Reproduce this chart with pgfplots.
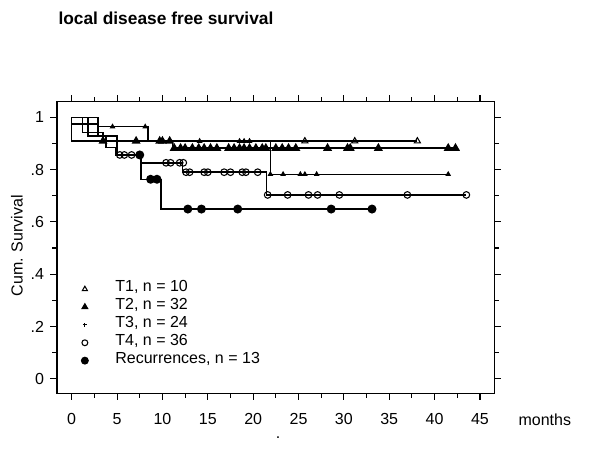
\documentclass[border=0pt]{standalone}
\usepackage{fontspec}
\setmainfont{Liberation Sans}
\usepackage{pgfplots}
\pgfplotsset{compat=1.18}
\begin{document}
\fontsize{12}{14}\selectfont
\begin{tikzpicture}
\useasboundingbox (0,0) rectangle (450pt,338.25pt);
\begin{axis}[
  at={(42.75pt,43.275pt)}, anchor=south west,
  scale only axis, width=327.98pt, height=218.7pt,
  xmin=-1.62, xmax=46.58, ymin=-0.0559, ymax=1.0597,
  axis line style={line width=0.9pt},
  xtick={0,5,...,45}, minor x tick num=1,
  ytick={0,0.2,0.4,0.6,0.8,1}, yticklabels={0,.2,.4,.6,.8,1}, minor y tick num=1,
  tick align=outside, major tick length=5pt, minor tick length=3.5pt,
  tick style={line width=0.8pt, black},
  /pgf/number format/assume math mode=true,
  tick label style={font=\fontsize{12}{14}\selectfont},
  xticklabel style={anchor=base, inner sep=0pt, yshift=-18.6pt},
  yticklabel style={anchor=east, inner sep=0pt, xshift=-4.5pt},
  legend style={draw=none, fill=none, at={(axis description cs:0,0)}, anchor=south west,
    xshift=15.3pt, yshift=15.6pt, font=\fontsize{12}{14}\selectfont,
    row sep=0pt, /tikz/column sep=20.5pt,
    nodes={inner sep=0pt, text height=8.8pt, text depth=4.6pt}},
  legend cell align=left,
  every axis plot/.append style={black, line width=1.1pt},
]
% step lines
\addplot[const plot, forget plot] coordinates {(0,1)(0,0.909)(38.1,0.909)};
\addplot[const plot, forget plot] coordinates {(0,1)(1.17,0.941)(3.45,0.909)(11.1,0.882)(42.3,0.882)};
\addplot[const plot, forget plot] coordinates {(0,1)(2.9,0.964)(8.4,0.909)(21.9,0.782)(41.5,0.782)};
\addplot[const plot, forget plot] coordinates {(0,1)(0,0.974)(1.8,0.928)(5.0,0.856)(7.65,0.826)(12.2,0.79)(21.5,0.703)(43.5,0.703)};
\addplot[const plot, forget plot] coordinates {(0,1)(1.8,0.974)(2.9,0.93)(3.8,0.885)(4.9,0.856)(7.65,0.763)(9.85,0.649)(33.1,0.649)};
% censor marks
% T1
\addplot[only marks, mark=triangle, mark size=2.6pt, mark options={fill=white, line width=0.8pt}, forget plot] coordinates {(25.7,0.909)(31.2,0.909)(38.1,0.909)};
% T2
\addplot[only marks, mark=triangle*, mark size=2.8pt, forget plot] coordinates {
(3.45,0.909)(7.1,0.909)(9.7,0.909)(10.0,0.909)(10.8,0.909)
(11.3,0.882)(12.0,0.882)(12.5,0.882)(13.3,0.882)(14.0,0.882)(14.6,0.882)(15.3,0.882)(16.0,0.882)
(17.3,0.882)(17.9,0.882)(18.5,0.882)(19.0,0.882)(19.6,0.882)(20.3,0.882)(21.0,0.882)(21.4,0.882)
(22.5,0.882)(23.2,0.882)(23.9,0.882)(24.7,0.882)(28.2,0.882)(30.4,0.882)(30.7,0.882)(33.8,0.882)
(41.5,0.882)(42.3,0.882)};
% T3
\addplot[only marks, mark=triangle*, mark size=1.4pt, forget plot] coordinates {
(4.5,0.964)(8.1,0.964)(9.9,0.909)(10.8,0.909)(14.1,0.909)(18.5,0.909)(19.0,0.909)(19.6,0.909)
(21.9,0.782)(23.3,0.782)(25.2,0.782)(25.7,0.782)(27.0,0.782)(41.5,0.782)};
% T4
\addplot[only marks, mark=o, mark size=2.5pt, mark options={fill=white, line width=0.8pt}, forget plot] coordinates {
(5.3,0.856)(5.8,0.856)(6.6,0.856)
(10.4,0.826)(10.9,0.826)(11.9,0.826)(12.3,0.826)
(12.6,0.79)(13.0,0.79)(14.6,0.79)(15.0,0.79)(16.8,0.79)(17.5,0.79)(18.8,0.79)(19.2,0.79)(20.5,0.79)
(21.6,0.703)(23.8,0.703)(26.1,0.703)(27.1,0.703)(29.5,0.703)(37.0,0.703)(43.5,0.703)};
% Recurrences
\addplot[only marks, mark=*, mark size=2.8pt, forget plot] coordinates {
(7.5,0.856)(8.7,0.763)(9.4,0.763)(12.8,0.649)(14.3,0.649)(18.3,0.649)(28.6,0.649)(33.1,0.649)};
% legend
\addlegendimage{only marks, mark=triangle, mark size=2.2pt, mark options={line width=0.8pt}}
\addlegendentry{T1, n = 10}
\addlegendimage{only marks, mark=triangle*, mark size=2.2pt}
\addlegendentry{T2, n = 32}
\addlegendimage{only marks, mark=+, mark size=1.5pt, mark options={line width=0.8pt}}
\addlegendentry{T3, n = 24}
\addlegendimage{only marks, mark=o, mark size=2.2pt, mark options={line width=0.8pt}}
\addlegendentry{T4, n = 36}
\addlegendimage{only marks, mark=*, mark size=2.4pt}
\addlegendentry{Recurrences, n = 13}
\end{axis}
\node[anchor=base west, inner sep=0pt, font=\fontsize{13}{15}\bfseries] at (43.7pt,319.5pt) {local disease free survival};
\node[anchor=base, rotate=90, inner sep=0pt, font=\fontsize{12}{14}\selectfont] at (17.0pt,153.9pt) {Cum. Survival};
\node[anchor=base west, inner sep=0pt, font=\fontsize{12}{14}\selectfont] at (388.7pt,19.5pt) {months};
\node[anchor=base, inner sep=0pt, font=\fontsize{12}{14}\selectfont] at (208.5pt,9.75pt) {.};
\end{tikzpicture}
\end{document}
